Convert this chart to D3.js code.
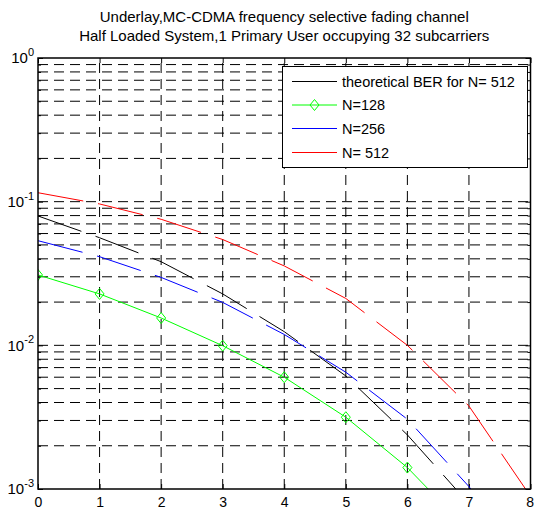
<!DOCTYPE html>
<html><head><meta charset="utf-8">
<script src="https://cdn.jsdelivr.net/npm/d3@7"></script>
<style>body{margin:0;background:#fff}svg{display:block;font-family:"Liberation Sans",Arial,sans-serif}</style>
</head><body><script>
const snr = [0,1,2,3,4,5,6,7,8];
const berTheory512 = [0.0795,0.0561,0.0382,0.0228,0.01245,0.00612,0.00238,0.00079];
const ber128 = [0.0309,0.0228,0.0155,0.00994,0.0060,0.00316,0.00141,0.00051];
const ber256 = [0.0535,0.0414,0.0297,0.0199,0.0119,0.0065,0.00306,0.00104,0.00029];
const ber512 = [0.1154,0.0964,0.0754,0.0545,0.0357,0.0212,0.0100,0.00378,0.00089];
const xTicks = [0,1,2,3,4,5,6,7,8];
const yTicks = [1e-3,1e-2,1e-1,1];
const yTickExp = ["-3","-2","-1","0"];
const titleLines = ["Underlay,MC-CDMA frequency selective fading channel","Half Loaded System,1 Primary User occupying 32 subcarriers"];
const legendLabels = ["theoretical BER for N= 512","N=128","N=256","N= 512"];

const W=534,H=512;
const L=38,R=530.5,T=58,B=489;
const svg=d3.select("body").append("svg").attr("width",W).attr("height",H);
svg.append("rect").attr("width",W).attr("height",H).attr("fill","#fff");
const x=d3.scaleLinear().domain([0,8]).range([L,R]);
const y=d3.scaleLog().domain([1e-3,1]).range([B,T]);

const yMinor=[];
[1e-3,1e-2,1e-1].forEach(d=>{for(let k=2;k<=9;k++)yMinor.push(d*k);});
const yAll=yTicks.concat(yMinor);

// grid
const grid=svg.append("g").attr("stroke","#000").attr("stroke-width",1).attr("stroke-dasharray","10,6");
yAll.filter(v=>v>1e-3&&v<1).forEach(v=>{
  grid.append("line").attr("x1",L).attr("x2",R).attr("y1",y(v)).attr("y2",y(v));
});
xTicks.filter(v=>v>0&&v<8).forEach(v=>{
  grid.append("line").attr("x1",x(v)).attr("x2",x(v)).attr("y1",B).attr("y2",T);
});

// axes
const ax=svg.append("g");
const xb=ax.append("g").attr("transform",`translate(0,${B})`).call(d3.axisBottom(x).tickValues(xTicks).tickSize(-5).tickPadding(8).tickFormat(d3.format("d")));
ax.append("g").attr("transform",`translate(0,${T})`).call(d3.axisTop(x).tickValues(xTicks).tickSize(-5).tickFormat(""));
const yl=ax.append("g").attr("transform",`translate(${L},0)`).call(d3.axisLeft(y).tickValues(yTicks).tickSize(-5).tickPadding(5).tickFormat(""));
ax.append("g").attr("transform",`translate(${L},0)`).call(d3.axisLeft(y).tickValues(yMinor).tickSize(-3).tickFormat(""));
ax.append("g").attr("transform",`translate(${R},0)`).call(d3.axisRight(y).tickValues(yTicks).tickSize(-5).tickFormat(""));
ax.append("g").attr("transform",`translate(${R},0)`).call(d3.axisRight(y).tickValues(yMinor).tickSize(-3).tickFormat(""));
ax.selectAll(".domain").remove();
ax.selectAll("line").attr("stroke","#000");
ax.selectAll("text").attr("fill","#000").attr("font-family","Liberation Sans, Arial, sans-serif").attr("font-size",15);
xb.selectAll(".tick text").attr("font-size",14).attr("text-anchor",d=>d===8?"end":"middle").attr("dx",d=>d===8?"3":"0");
yl.selectAll(".tick text").each(function(d){
  const t=d3.select(this).attr("x",-4).attr("dy","0.32em");
  t.append("tspan").text("10");
  t.append("tspan").attr("font-size",11).attr("dy","-0.65em").text(yTickExp[yTicks.indexOf(d)]);
});

// data
svg.append("clipPath").attr("id","clip").append("rect").attr("x",L).attr("y",T).attr("width",R-L).attr("height",B-T);
const dg=svg.append("g").attr("clip-path","url(#clip)");
const line=d3.line().x((d,i)=>x(snr[i])).y(d=>y(d));
const series=[
  {v:berTheory512,c:"#000",dash:"46,15"},
  {v:ber128,c:"#00ff00",dash:null,marker:true},
  {v:ber256,c:"#0000ff",dash:"46,15"},
  {v:ber512,c:"#ff0000",dash:"46,15"}
];
const diamond=(cx,cy)=>`M${cx},${cy-5.5}L${cx+4.5},${cy}L${cx},${cy+5.5}L${cx-4.5},${cy}Z`;
series.forEach(s=>{
  dg.append("path").attr("d",line(s.v)).attr("fill","none").attr("stroke",s.c).attr("stroke-width",1)
    .attr("stroke-dasharray",s.dash);
  if(s.marker){
    s.v.forEach((v,i)=>{
      dg.append("path").attr("d",diamond(x(snr[i]),y(v))).attr("fill","none").attr("stroke",s.c).attr("stroke-width",1);
    });
  }
});

// frame
svg.append("rect").attr("x",L).attr("y",T).attr("width",R-L).attr("height",B-T).attr("fill","none").attr("stroke","#000").attr("stroke-width",1.5);

// title
svg.append("g").selectAll("text").data(titleLines).join("text")
  .attr("x",(L+R)/2).attr("y",(d,i)=>22+i*19).attr("text-anchor","middle").attr("font-size",15).attr("fill","#000").text(d=>d);

// legend
const lg=svg.append("g");
lg.append("rect").attr("x",282.5).attr("y",66.5).attr("width",245).attr("height",101).attr("fill","#fff").attr("stroke","#000").attr("stroke-width",1);
const rowY=[81.5,105,128.5,152.5];
series.forEach((s,i)=>{
  lg.append("line").attr("x1",292).attr("x2",337).attr("y1",rowY[i]).attr("y2",rowY[i]).attr("stroke",s.c).attr("stroke-width",1);
  if(s.marker) lg.append("path").attr("d",diamond(314.5,rowY[i])).attr("fill","none").attr("stroke",s.c).attr("stroke-width",1);
  lg.append("text").attr("x",342).attr("y",rowY[i]).attr("dy","0.35em").attr("font-size",14.5).attr("fill","#000").text(legendLabels[i]);
});
</script></body></html>
